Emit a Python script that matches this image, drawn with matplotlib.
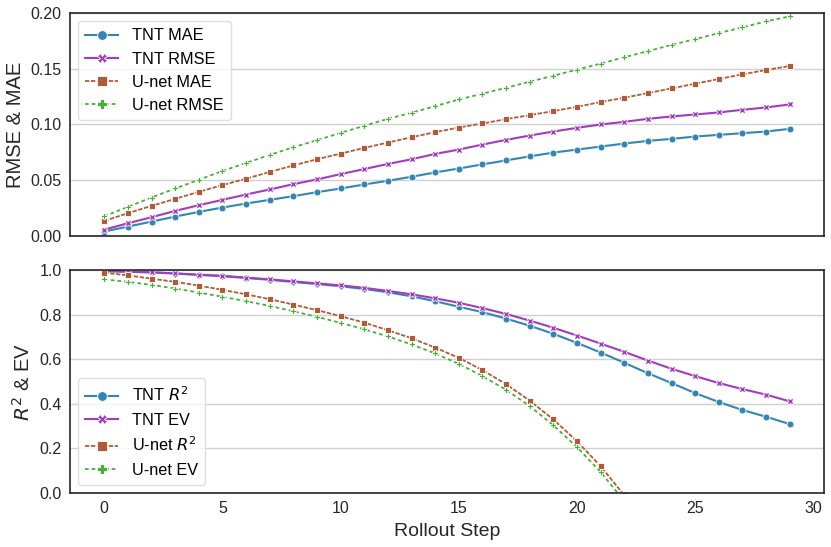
import matplotlib
matplotlib.use("Agg")
import matplotlib.pyplot as plt
import numpy as np

plt.rcParams['font.family'] = ['Liberation Sans', 'DejaVu Sans']

steps = np.arange(30)

# error metrics (top panel)
tnt_mae = [0.004, 0.0084, 0.0129, 0.0174, 0.0216, 0.0255, 0.0291, 0.0324, 0.0357, 0.0393,
           0.0426, 0.0462, 0.0495, 0.0531, 0.057, 0.0605, 0.0642, 0.0678, 0.0714, 0.0748,
           0.0775, 0.0802, 0.0829, 0.0853, 0.0871, 0.0892, 0.0907, 0.0922, 0.0937, 0.0961]
tnt_rmse = [0.0057, 0.0114, 0.0168, 0.0225, 0.0276, 0.0324, 0.0372, 0.0417, 0.0465, 0.0507,
            0.0555, 0.06, 0.0646, 0.0688, 0.0736, 0.0775, 0.082, 0.0862, 0.0901, 0.0937,
            0.097, 0.1, 0.1024, 0.1051, 0.1072, 0.109, 0.1108, 0.1132, 0.1153, 0.118]
unet_mae = [0.0135, 0.0204, 0.027, 0.0333, 0.0396, 0.0456, 0.0514, 0.0574, 0.0633, 0.0688,
            0.0739, 0.079, 0.0838, 0.0886, 0.0931, 0.0973, 0.1009, 0.1048, 0.1084, 0.112,
            0.1159, 0.1201, 0.124, 0.1282, 0.1324, 0.1366, 0.1408, 0.145, 0.1489, 0.1525]
unet_rmse = [0.0177, 0.0261, 0.0345, 0.0426, 0.0504, 0.0583, 0.0655, 0.0727, 0.0796, 0.0859,
             0.0925, 0.0988, 0.1051, 0.1105, 0.1165, 0.1225, 0.1276, 0.133, 0.1384, 0.1438,
             0.1492, 0.1546, 0.1603, 0.1658, 0.1714, 0.1766, 0.182, 0.1871, 0.1925, 0.197]

# skill metrics (bottom panel), U-net curves leave the visible range after step 22
tnt_r2 = [0.995, 0.992, 0.989, 0.984, 0.978, 0.972, 0.964, 0.956, 0.946, 0.937,
          0.927, 0.915, 0.9, 0.882, 0.86, 0.835, 0.811, 0.782, 0.75, 0.714,
          0.673, 0.63, 0.584, 0.537, 0.493, 0.448, 0.408, 0.372, 0.342, 0.309]
tnt_ev = [0.996, 0.993, 0.99, 0.985, 0.979, 0.974, 0.966, 0.958, 0.949, 0.94,
          0.931, 0.92, 0.906, 0.891, 0.873, 0.853, 0.829, 0.803, 0.773, 0.741,
          0.706, 0.67, 0.633, 0.594, 0.557, 0.524, 0.493, 0.466, 0.441, 0.411]
unet_r2 = [0.988, 0.976, 0.961, 0.947, 0.93, 0.911, 0.891, 0.869, 0.845, 0.82,
           0.793, 0.764, 0.73, 0.694, 0.652, 0.606, 0.551, 0.488, 0.414, 0.33,
           0.232, 0.12, -0.01]
unet_ev = [0.958, 0.947, 0.933, 0.917, 0.899, 0.88, 0.86, 0.839, 0.815, 0.79,
           0.763, 0.734, 0.702, 0.666, 0.626, 0.579, 0.524, 0.463, 0.39, 0.303,
           0.206, 0.094, -0.036]

c_blue = '#3287b2'
c_purple = '#a23cbe'
c_brown = '#b25a36'
c_green = '#46b036'

fig = plt.figure(figsize=(8.31, 5.47), dpi=100)
ax1 = fig.add_axes([0.0842, 0.5686, 0.9074, 0.4076])
ax2 = fig.add_axes([0.0842, 0.0987, 0.9074, 0.4077], sharex=ax1)

kw = dict(markersize=5, markeredgecolor='white', markeredgewidth=0.6)
ls_mae = (0, (2.4, 0.9))
ls_rmse = (0, (2.0, 1.7))

ax1.plot(steps, tnt_mae, color=c_blue, marker='o', lw=1.5, label='TNT MAE', **kw)
ax1.plot(steps, tnt_rmse, color=c_purple, marker='X', lw=1.5, label='TNT RMSE', **kw)
ax1.plot(steps, unet_mae, color=c_brown, marker='s', lw=1.3, ls=ls_mae, label='U-net MAE', **kw)
ax1.plot(steps, unet_rmse, color=c_green, marker='P', lw=1.3, ls=ls_rmse, label='U-net RMSE', **kw)

ax2.plot(steps, tnt_r2, color=c_blue, marker='o', lw=1.5, label='TNT $R^2$', **kw)
ax2.plot(steps, tnt_ev, color=c_purple, marker='X', lw=1.5, label='TNT EV', **kw)
ax2.plot(steps[:len(unet_r2)], unet_r2, color=c_brown, marker='s', lw=1.3, ls=ls_mae,
         label='U-net $R^2$', **kw)
ax2.plot(steps[:len(unet_ev)], unet_ev, color=c_green, marker='P', lw=1.3, ls=ls_rmse,
         label='U-net EV', **kw)

ax1.set_ylim(0, 0.20)
ax1.set_yticks([0, 0.05, 0.10, 0.15, 0.20])
ax1.set_yticklabels(['0.00', '0.05', '0.10', '0.15', '0.20'])
ax2.set_ylim(0, 1.0)
ax2.set_yticks([0, 0.2, 0.4, 0.6, 0.8, 1.0])
ax2.set_yticklabels(['0.0', '0.2', '0.4', '0.6', '0.8', '1.0'])
ax2.set_xticks([0, 5, 10, 15, 20, 25, 30])

for ax in (ax1, ax2):
    ax.grid(axis='y', color='#d0d0d0', lw=1)
    ax.set_axisbelow(True)
    for s in ax.spines.values():
        s.set_color('#262626')
        s.set_linewidth(1.2)
    ax.tick_params(length=0, labelsize=11.5, colors='#262626', pad=6)
plt.setp(ax1.get_xticklabels(), visible=False)

ax1.set_ylabel('RMSE & MAE', fontsize=14.5, color='#262626')
ax2.set_ylabel('$R^2$ & EV', fontsize=14.5, color='#262626')
ax2.set_xlabel('Rollout Step', fontsize=14, color='#262626', labelpad=5)

lg_kw = dict(fontsize=11.7, frameon=True, edgecolor='#d8d8d8', borderpad=0.45,
             handlelength=2.0, labelspacing=0.5, handletextpad=0.85, markerscale=1.4)
ax1.legend(loc='upper left', **lg_kw)
ax2.legend(loc='lower left', **lg_kw)

fig.savefig('out.png', dpi=100)
